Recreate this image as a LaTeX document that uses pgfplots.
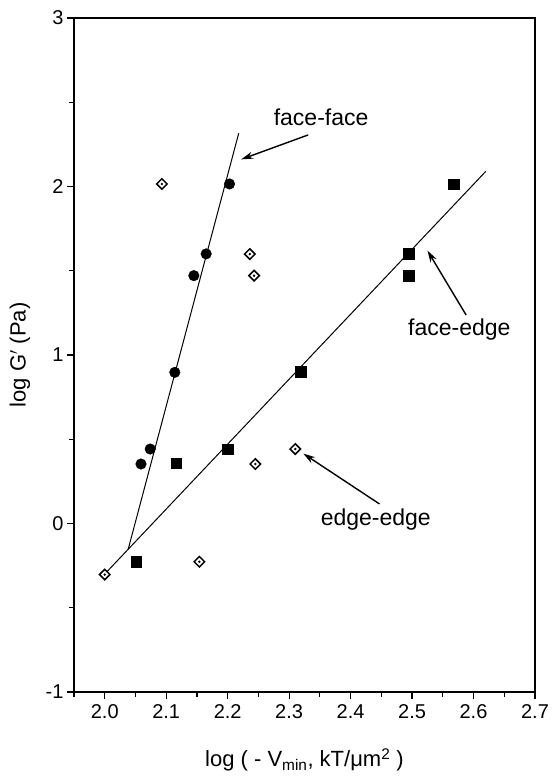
\documentclass[border=0pt]{standalone}
\usepackage{pgfplots}
\pgfplotsset{compat=1.18}
\usepackage{fontspec}
\setmainfont{Liberation Sans}
\usetikzlibrary{arrows.meta}
\begin{document}
\begin{tikzpicture}
\begin{axis}[
  name=ax,
  scale only axis,
  width=461pt, height=674pt,
  xmin=1.95, xmax=2.7, ymin=-1, ymax=3,
  xtick={2.0,2.1,2.2,2.3,2.4,2.5,2.6,2.7},
  xticklabels={2.0,2.1,2.2,2.3,2.4,2.5,2.6,2.7},
  minor xtick={1.95,2.05,2.15,2.25,2.35,2.45,2.55,2.65},
  ytick={-1,0,1,2,3},
  yticklabels={-1,0,1,2,3},
  minor ytick={-0.5,0.5,1.5,2.5},
  tick pos=left, tick align=outside,
  major tick length=7pt, minor tick length=5pt,
  every tick/.style={black, line width=1.2pt},
  axis line style={line width=1.4pt},
  ticklabel style={font=\fontsize{20}{24}\selectfont},
  xticklabel style={yshift=-2pt},
  label style={font=\fontsize{22}{26}\selectfont},
  xlabel={log ( - V\textsubscript{min}, kT/μm\textsuperscript{2} )},
  ylabel={log G$'$ (Pa)},
  xlabel style={at={(axis description cs:0.5,-0.101)}, anchor=center},
  ylabel style={at={(axis description cs:-0.117,0.5)}, anchor=center},
]
% fitted lines
\addplot[black, line width=1pt] coordinates {(2.0,-0.30) (2.62,2.09)};
\addplot[black, line width=1pt] coordinates {(2.038,-0.155) (2.218,2.316)};
% face-face (circles)
\addplot[only marks, mark=*, mark size=5.3pt, black] coordinates {
 (2.059,0.353) (2.074,0.442) (2.114,0.897) (2.145,1.471) (2.165,1.600) (2.203,2.015)};
% face-edge (squares)
\addplot[only marks, mark=square*, mark size=5.3pt, black] coordinates {
 (2.051,-0.227) (2.116,0.357) (2.200,0.442) (2.319,0.901) (2.495,1.600) (2.495,1.471) (2.568,2.013)};
% edge-edge (open diamonds with dot)
\addplot[only marks, mark=square*, mark size=3.7pt, mark options={rotate=45, fill=white, draw=black, line width=1.5pt}] coordinates {
 (2.000,-0.303) (2.154,-0.227) (2.245,0.353) (2.310,0.442) (2.236,1.599) (2.243,1.471) (2.093,2.015)};
\addplot[only marks, mark=*, mark size=1.0pt, black] coordinates {
 (2.000,-0.303) (2.154,-0.227) (2.245,0.353) (2.310,0.442) (2.236,1.599) (2.243,1.471) (2.093,2.015)};
% annotations
\node[font=\fontsize{23}{27}\selectfont] at (axis cs:2.352,2.41) {face-face};
\draw[-{Stealth[length=12pt,width=7pt]}, line width=1.4pt] (axis cs:2.331,2.306) -- (axis cs:2.222,2.161);
\node[font=\fontsize{23}{27}\selectfont] at (axis cs:2.577,1.153) {face-edge};
\draw[-{Stealth[length=12pt,width=7pt]}, line width=1.4pt] (axis cs:2.588,1.237) -- (axis cs:2.525,1.62);
\node[font=\fontsize{23}{27}\selectfont] at (axis cs:2.441,0.025) {edge-edge};
\draw[-{Stealth[length=12pt,width=7pt]}, line width=1.4pt] (axis cs:2.447,0.116) -- (axis cs:2.323,0.415);
\end{axis}
\path (ax.south west) ++(-74pt,-85pt);
\path (ax.north east) ++(15pt,18pt);
\end{tikzpicture}
\end{document}
